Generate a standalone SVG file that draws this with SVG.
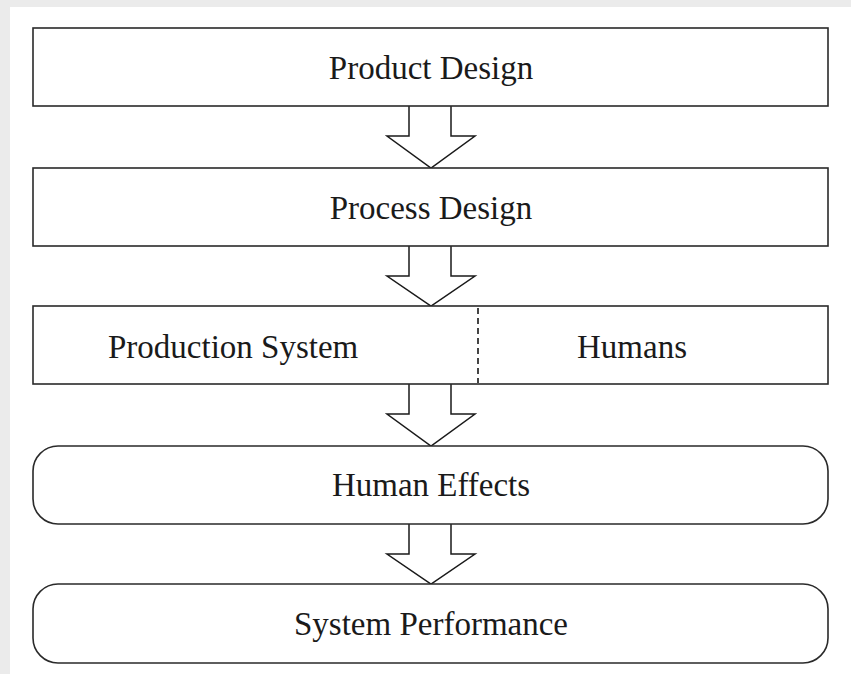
<svg xmlns="http://www.w3.org/2000/svg" width="851" height="674" viewBox="0 0 851 674">
<style>
.box{fill:#ffffff;stroke:#2a2a2a;stroke-width:1.6}
.lbl{font-family:"Liberation Serif","Times New Roman",serif;font-size:33px;fill:#1a1a1a}
.mid{text-anchor:middle}
.arrow{fill:#ffffff;stroke:#1a1a1a;stroke-width:1.5;stroke-linejoin:miter}
.div{stroke:#444444;stroke-width:2;stroke-dasharray:6,4}
</style>
<rect x="0" y="0" width="851" height="674" fill="#ebebeb"/>
<rect x="10" y="7" width="841" height="667" fill="#ffffff"/>
<g id="connectors">
<path class="arrow" d="M409,106 V136 H387 L431,168 L475,136 H451 V106"/>
<path class="arrow" d="M409,246 V276 H387 L431,306 L475,276 H451 V246"/>
<path class="arrow" d="M409,384 V414 H387 L431,446 L475,414 H451 V384"/>
<path class="arrow" d="M409,524 V554 H387 L431,584 L475,554 H451 V524"/>
</g>
<g id="product-design">
<rect class="box" x="33" y="28" width="795" height="78"/>
<text class="lbl mid" x="431" y="79">Product Design</text>
</g>
<g id="process-design">
<rect class="box" x="33" y="168" width="795" height="78"/>
<text class="lbl mid" x="431" y="219">Process Design</text>
</g>
<g id="production-system">
<rect class="box" x="33" y="306" width="795" height="78"/>
<line class="div" x1="478" y1="308" x2="478" y2="383"/>
<text class="lbl" x="108" y="358">Production System</text>
<text class="lbl" x="577" y="358">Humans</text>
</g>
<g id="human-effects">
<rect class="box" x="33" y="446" width="795" height="78" rx="25" ry="25"/>
<text class="lbl mid" x="431" y="496">Human Effects</text>
</g>
<g id="system-performance">
<rect class="box" x="33" y="584" width="795" height="79" rx="25" ry="25"/>
<text class="lbl mid" x="431" y="635">System Performance</text>
</g>
</svg>
